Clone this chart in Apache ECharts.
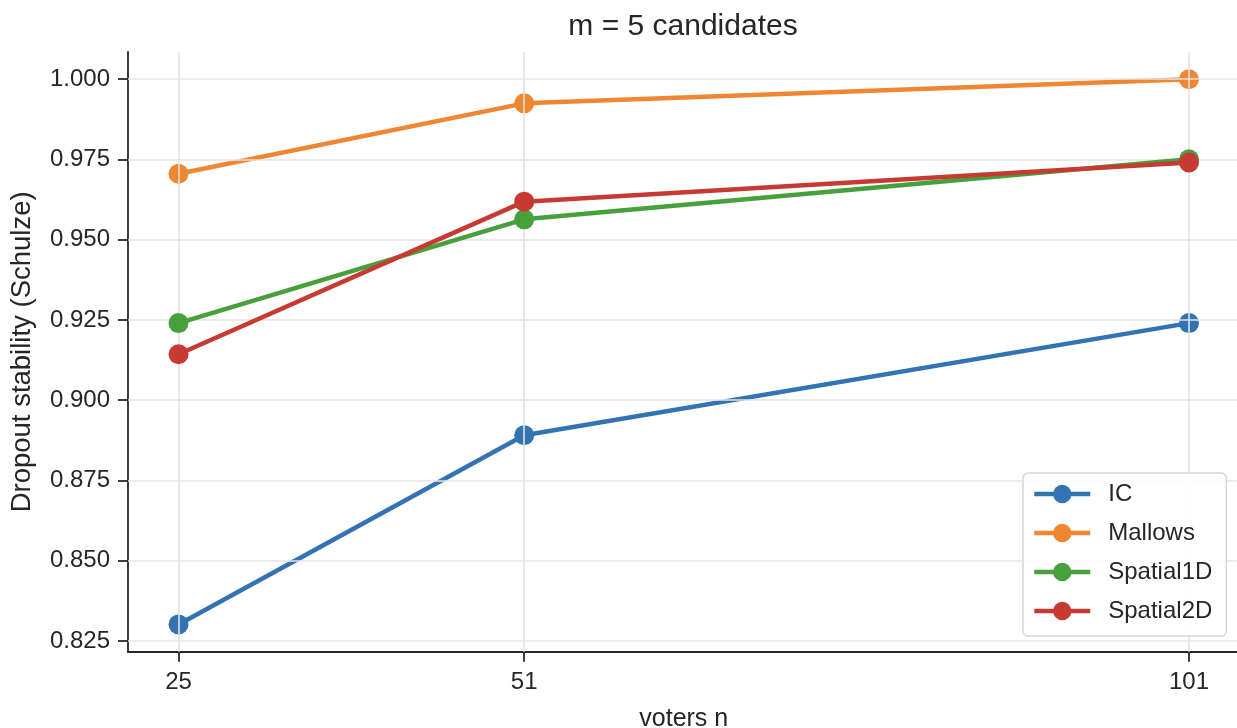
<!DOCTYPE html>
<html>
<head>
<meta charset="utf-8">
<script src="https://cdn.jsdelivr.net/npm/echarts@6/dist/echarts.min.js"></script>
<style>
  html, body { margin: 0; padding: 0; background: #fff; }
  #chart { width: 1237px; height: 728px; }
</style>
</head>
<body>
<div id="chart"></div>
<script>
// Number of voters on the x axis
const voters = [25, 51, 101];
// Dropout stability per preference model
const icValues = [0.8302, 0.8891, 0.9240];
const mallowsValues = [0.9705, 0.9924, 0.9999];
const spatial1dValues = [0.9240, 0.9563, 0.9750];
const spatial2dValues = [0.9143, 0.9618, 0.9740];
// Tick labels of the y axis
const yTicks = [0.825, 0.850, 0.875, 0.900, 0.925, 0.950, 0.975, 1.000];

const seriesNames = ['IC', 'Mallows', 'Spatial1D', 'Spatial2D'];
const seriesValues = [icValues, mallowsValues, spatial1dValues, spatial2dValues];
const colors = ['#3373b3', '#ef8631', '#47a03b', '#c63a31'];

const FONT = 'Liberation Sans, Arial, sans-serif';
const TEXT = '#262626';
const GRID = '#e3e3e3';

// axis limits with a 5% margin around the data
const xSpan = voters[voters.length - 1] - voters[0];
const xMin = voters[0] - 0.05 * xSpan;
const xMax = voters[voters.length - 1] + 0.05 * xSpan;
const allY = seriesValues.flat();
const yLo = Math.min(...allY), yHi = Math.max(...allY);
const ySpan = yHi - yLo;
const yMin = yLo - 0.05 * ySpan;
const yMax = yHi + 0.05 * ySpan;

const lineSeries = seriesNames.map((name, i) => ({
  name: name,
  type: 'line',
  data: voters.map((v, j) => [v, seriesValues[i][j]]),
  symbol: 'circle',
  symbolSize: 20,
  color: colors[i],
  lineStyle: { width: 4.5, color: colors[i] },
  itemStyle: { color: colors[i] },
  z: 3 + i,
  animation: false
}));

// light background grid drawn at the tick positions
const gridLines = yTicks.map(t => [{ coord: [xMin, t] }, { coord: [xMax, t] }])
  .concat(voters.map(v => [{ coord: [v, yMin] }, { coord: [v, yMax] }]));

const gridSeries = {
  name: '__grid',
  type: 'line',
  data: [],
  silent: true,
  z: 1,
  animation: false,
  markLine: {
    silent: true,
    symbol: ['none', 'none'],
    label: { show: false },
    animation: false,
    lineStyle: { color: GRID, width: 1.6, type: 'solid' },
    emphasis: { disabled: true },
    data: gridLines
  }
};

const chart = echarts.init(document.getElementById('chart'), null, { renderer: 'canvas' });
chart.setOption({
  backgroundColor: '#ffffff',
  animation: false,
  textStyle: { fontFamily: FONT },
  title: {
    text: 'm = 5 candidates',
    left: 678,
    textAlign: 'center',
    top: 7,
    textStyle: { fontFamily: FONT, fontSize: 30, fontWeight: 'normal', color: TEXT }
  },
  grid: { left: 128, right: -2.5, top: 52, bottom: 76.3, containLabel: false, outerBoundsMode: 'none' },
  legend: {
    data: seriesNames,
    orient: 'vertical',
    left: 1023,
    top: 473,
    z: 20,
    itemWidth: 56,
    itemHeight: 23,
    itemGap: 15,
    padding: [9, 14, 13, 9],
    backgroundColor: 'rgba(255,255,255,0.88)',
    borderColor: '#d6d6d6',
    borderWidth: 1.5,
    borderRadius: 5,
    lineStyle: { width: 4.5 },
    textStyle: { fontFamily: FONT, fontSize: 24, color: TEXT, padding: [0, 0, 0, 13] }
  },
  xAxis: {
    type: 'value',
    min: xMin,
    max: xMax,
    name: 'voters n',
    nameLocation: 'middle',
    nameGap: 55,
    nameTextStyle: { fontFamily: FONT, fontSize: 25, color: TEXT },
    axisLine: { show: true, onZero: false, lineStyle: { color: TEXT, width: 1.8 } },
    axisTick: { show: true, length: 10, lineStyle: { color: TEXT, width: 1.8 }, customValues: voters },
    axisLabel: { fontFamily: FONT, fontSize: 24, color: TEXT, margin: 19, customValues: voters },
    splitLine: { show: false }
  },
  yAxis: {
    type: 'value',
    min: yMin,
    max: yMax,
    name: 'Dropout stability (Schulze)',
    nameLocation: 'middle',
    nameGap: 92,
    nameTextStyle: { fontFamily: FONT, fontSize: 27.5, color: TEXT },
    axisLine: { show: true, onZero: false, lineStyle: { color: TEXT, width: 1.8 } },
    axisTick: { show: true, length: 10, lineStyle: { color: TEXT, width: 1.8 }, customValues: yTicks },
    axisLabel: {
      fontFamily: FONT, fontSize: 24, color: TEXT, margin: 18,
      customValues: yTicks,
      formatter: v => Number(v).toFixed(3)
    },
    splitLine: { show: false }
  },
  series: [gridSeries].concat(lineSeries)
});
</script>
</body>
</html>
